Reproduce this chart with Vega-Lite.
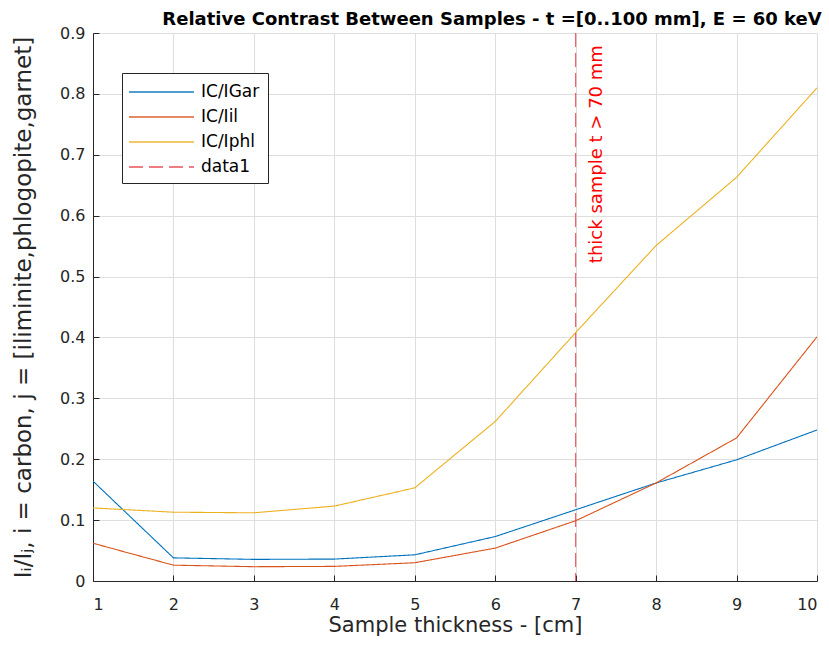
{
  "$schema": "https://vega.github.io/schema/vega-lite/v6.json",
  "width": 724,
  "height": 548,
  "autosize": "none",
  "padding": {"left": 93, "top": 33, "right": 12, "bottom": 68},
  "background": "white",
  "title": {
    "text": "Relative Contrast Between Samples - t =[0..100 mm], E = 60 keV",
    "font": "DejaVu Sans",
    "fontSize": 18,
    "fontWeight": "bold",
    "color": "#000000",
    "anchor": "middle",
    "dx": 37,
    "offset": -4
  },
  "config": {
    "font": "DejaVu Sans",
    "view": {"stroke": null},
    "axis": {
      "domainColor": "#262626",
      "tickColor": "#262626",
      "labelColor": "#262626",
      "titleColor": "#262626",
      "gridColor": "#dedede",
      "labelFont": "DejaVu Sans",
      "titleFont": "DejaVu Sans",
      "labelFontSize": 16,
      "titleFontSize": 21,
      "titleFontWeight": "normal"
    },
    "legend": {
      "orient": "none",
      "legendX": 29,
      "legendY": 40,
      "strokeColor": "#262626",
      "fillColor": "white",
      "padding": 8,
      "labelFont": "DejaVu Sans",
      "labelFontSize": 17,
      "labelColor": "#000000",
      "symbolType": "M-1.2,0H5.3",
      "symbolStrokeWidth": 1.5,
      "symbolSize": 400,
      "labelOffset": 49,
      "rowPadding": 6
    }
  },
  "datasets": {
    "curves": [
      {"t": 1, "ratio": 0.164, "series": "IC/IGar"},
      {"t": 2, "ratio": 0.038, "series": "IC/IGar"},
      {"t": 3, "ratio": 0.0355, "series": "IC/IGar"},
      {"t": 4, "ratio": 0.036, "series": "IC/IGar"},
      {"t": 5, "ratio": 0.043, "series": "IC/IGar"},
      {"t": 6, "ratio": 0.073, "series": "IC/IGar"},
      {"t": 7, "ratio": 0.117, "series": "IC/IGar"},
      {"t": 8, "ratio": 0.161, "series": "IC/IGar"},
      {"t": 9, "ratio": 0.199, "series": "IC/IGar"},
      {"t": 10, "ratio": 0.248, "series": "IC/IGar"},
      {"t": 1, "ratio": 0.062, "series": "IC/Iil"},
      {"t": 2, "ratio": 0.026, "series": "IC/Iil"},
      {"t": 3, "ratio": 0.0235, "series": "IC/Iil"},
      {"t": 4, "ratio": 0.024, "series": "IC/Iil"},
      {"t": 5, "ratio": 0.030, "series": "IC/Iil"},
      {"t": 6, "ratio": 0.054, "series": "IC/Iil"},
      {"t": 7, "ratio": 0.099, "series": "IC/Iil"},
      {"t": 8, "ratio": 0.161, "series": "IC/Iil"},
      {"t": 9, "ratio": 0.235, "series": "IC/Iil"},
      {"t": 10, "ratio": 0.401, "series": "IC/Iil"},
      {"t": 1, "ratio": 0.120, "series": "IC/Iphl"},
      {"t": 2, "ratio": 0.113, "series": "IC/Iphl"},
      {"t": 3, "ratio": 0.112, "series": "IC/Iphl"},
      {"t": 4, "ratio": 0.123, "series": "IC/Iphl"},
      {"t": 5, "ratio": 0.153, "series": "IC/Iphl"},
      {"t": 6, "ratio": 0.262, "series": "IC/Iphl"},
      {"t": 7, "ratio": 0.408, "series": "IC/Iphl"},
      {"t": 8, "ratio": 0.551, "series": "IC/Iphl"},
      {"t": 9, "ratio": 0.663, "series": "IC/Iphl"},
      {"t": 10, "ratio": 0.810, "series": "IC/Iphl"}
    ],
    "marker": [{"t": 7, "series": "data1"}],
    "note": [{"t": 7.27, "ratio": 0.88, "label": "thick sample t > 70 mm"}]
  },
  "layer": [
    {
      "data": {"name": "curves"},
      "mark": {"type": "line", "strokeWidth": 1.1, "clip": true},
      "encoding": {
        "x": {
          "field": "t", "type": "quantitative",
          "scale": {"domain": [1, 10], "nice": false, "zero": false},
          "axis": {
            "title": "Sample thickness - [cm]",
            "values": [1, 2, 3, 4, 5, 6, 7, 8, 9, 10],
            "format": "d",
            "tickSize": -6,
            "labelPadding": 21,
            "titlePadding": 2,
            "grid": true
          }
        },
        "y": {
          "field": "ratio", "type": "quantitative",
          "scale": {"domain": [0, 0.9], "nice": false},
          "axis": {
            "title": "Iᵢ/Iⱼ, i = carbon, j = [iliminite,phlogopite,garnet]",
            "titleFontSize": 23,
            "values": [0, 0.1, 0.2, 0.3, 0.4, 0.5, 0.6, 0.7, 0.8, 0.9],
            "labelExpr": "datum.value == 0 ? '0' : format(datum.value, '.1f')",
            "tickSize": -6,
            "labelPadding": 14,
            "titlePadding": 24,
            "grid": true
          }
        },
        "color": {
          "field": "series", "type": "nominal",
          "scale": {
            "domain": ["IC/IGar", "IC/Iil", "IC/Iphl", "data1"],
            "range": ["#0072BD", "#D95319", "#EDB120", "#e8404a"]
          },
          "legend": {"title": null}
        },
        "strokeDash": {
          "field": "series", "type": "nominal",
          "scale": {
            "domain": ["IC/IGar", "IC/Iil", "IC/Iphl", "data1"],
            "range": [[1, 0], [1, 0], [1, 0], [14, 6]]
          },
          "legend": {"title": null}
        }
      }
    },
    {
      "data": {"name": "marker"},
      "mark": {"type": "rule", "strokeWidth": 1.1, "opacity": 0.9},
      "encoding": {
        "x": {"field": "t", "type": "quantitative"},
        "color": {"field": "series", "type": "nominal"},
        "strokeDash": {"field": "series", "type": "nominal"}
      }
    },
    {
      "data": {"name": "note"},
      "mark": {
        "type": "text",
        "angle": 270,
        "align": "right",
        "baseline": "middle",
        "fontSize": 18,
        "color": "#ff0000",
        "font": "DejaVu Sans"
      },
      "encoding": {
        "x": {"field": "t", "type": "quantitative"},
        "y": {"field": "ratio", "type": "quantitative"},
        "text": {"field": "label"}
      }
    }
  ]
}
